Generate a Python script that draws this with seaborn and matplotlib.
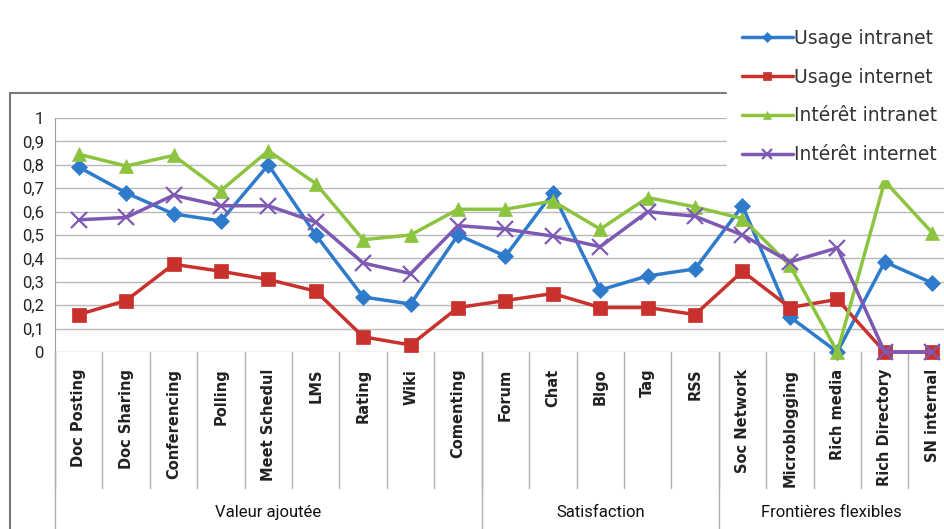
import numpy as np
import pandas as pd
import seaborn as sns
import matplotlib.pyplot as plt
from matplotlib import transforms
from matplotlib.patches import Rectangle
from matplotlib.ticker import FuncFormatter

# donnees du graphique
categories = ['Doc Posting', 'Doc Sharing', 'Conferencing', 'Polling', 'Meet Schedul',
              'LMS', 'Rating', 'Wiki', 'Comenting', 'Forum', 'Chat', 'Blgo', 'Tag',
              'RSS', 'Soc Network', 'Microblogging', 'Rich media', 'Rich Directory',
              'SN internal']
usage_intranet = [0.79, 0.68, 0.59, 0.56, 0.80, 0.50, 0.235, 0.205, 0.50, 0.41, 0.68,
                  0.265, 0.325, 0.355, 0.625, 0.15, 0.0, 0.385, 0.295]
usage_internet = [0.16, 0.22, 0.375, 0.345, 0.31, 0.26, 0.065, 0.03, 0.19, 0.22, 0.25,
                  0.19, 0.19, 0.16, 0.345, 0.19, 0.225, 0.0, 0.0]
interet_intranet = [0.845, 0.795, 0.84, 0.69, 0.86, 0.72, 0.48, 0.50, 0.61, 0.61, 0.645,
                    0.525, 0.66, 0.62, 0.57, 0.37, 0.0, 0.73, 0.51]
interet_internet = [0.565, 0.575, 0.67, 0.625, 0.625, 0.555, 0.38, 0.335, 0.54, 0.525,
                    0.495, 0.45, 0.60, 0.58, 0.50, 0.385, 0.445, 0.0, 0.0]
series = ['Usage intranet', 'Usage internet', 'Intérêt intranet', 'Intérêt internet']
groupes = ['Valeur ajoutée', 'Satisfaction', 'Frontières flexibles']
taille_groupes = [9, 5, 5]
yticks = [0, 0.1, 0.2, 0.3, 0.4, 0.5, 0.6, 0.7, 0.8, 0.9, 1]

# table longue pour seaborn
valeurs = [usage_intranet, usage_internet, interet_intranet, interet_internet]
df = pd.DataFrame({
    'categorie': categories * len(series),
    'serie': np.repeat(series, len(categories)),
    'valeur': np.concatenate(valeurs),
})

couleurs = ['#2F7BCB', '#C8312C', '#8DC43F', '#7E59B3']
marqueurs = ['D', 's', '^', 'x']
tailles = [8, 10, 10, 11]
police_etroite = ['Roboto', 'DejaVu Sans']

sns.set_style('white')
plt.rcParams['font.family'] = ['DejaVu Sans']

fig = plt.figure(figsize=(9.44, 5.29), dpi=100)
ax = fig.add_axes([55 / 944, 177 / 529, 889 / 944, 234 / 529])

for s, c, m, t in zip(series, couleurs, marqueurs, tailles):
    sns.lineplot(data=df[df['serie'] == s], x='categorie', y='valeur', ax=ax,
                 color=c, marker=m, markersize=t, markeredgecolor=c,
                 markeredgewidth=1.6 if m == 'x' else 0.5, linewidth=2.5,
                 sort=False, label=s, clip_on=False, zorder=3)

x_droite = 18.25
ax.set_xlim(-0.5, x_droite)
ax.set_ylim(0, 1)
ax.set_yticks(yticks)
ax.yaxis.set_major_formatter(FuncFormatter(lambda v, p: ('%g' % v).replace('.', ',')))
ax.grid(axis='y', color='#B8B8B8', linewidth=1)
ax.set_axisbelow(True)
for sp in ['top', 'right', 'bottom']:
    ax.spines[sp].set_visible(False)
ax.spines['left'].set_color('#A0A0A0')
ax.tick_params(axis='y', length=6, color='#A0A0A0', labelsize=12, pad=2,
               labelcolor='#222222')
for lab in ax.get_yticklabels():
    lab.set_family(police_etroite)
ax.tick_params(axis='x', length=0, labelsize=10.5, pad=12, labelcolor='#222222')
ax.set_xticks(range(len(categories)))
ax.set_xticklabels(categories, rotation=90, va='top', fontweight='bold')
ax.set_xlabel('')
ax.set_ylabel('')
ax.get_legend().remove()

# separateurs des categories et des groupes
trans = transforms.blended_transform_factory(ax.transData, ax.transAxes)
for i in range(len(categories) + 1):
    ax.plot([i - 0.5, i - 0.5], [0, -0.58], transform=trans, color='#B0B0B0',
            lw=1, clip_on=False)
debut = 0
for g, n in zip(groupes, taille_groupes):
    ax.plot([debut - 0.5, debut - 0.5], [0, -0.9], transform=trans, color='#B0B0B0',
            lw=1, clip_on=False)
    centre = (debut - 0.5 + min(debut + n - 0.5, x_droite)) / 2
    ax.text(centre, -0.685, g, transform=trans, ha='center', va='center', fontsize=12,
            family=police_etroite, color='#111111')
    debut += n

# cadre du graphique
fig.patches.append(Rectangle((10 / 944, -0.1), 1.0, 436 / 529 + 0.1,
                             transform=fig.transFigure, fill=False,
                             edgecolor='#7A7A7A', linewidth=1.5))

handles, labels = ax.get_legend_handles_labels()
leg = fig.legend(handles, labels, loc='upper left', bbox_to_anchor=(727 / 944, 1 - 14 / 529),
                 frameon=True, facecolor='white', edgecolor='white', framealpha=1,
                 fontsize=13.5, handlelength=2.7, markerscale=0.6, labelspacing=1.05,
                 handletextpad=0.05, borderpad=0.8, borderaxespad=0)
for t in leg.get_texts():
    t.set_color('#333333')

fig.savefig('out.png', dpi=100)
